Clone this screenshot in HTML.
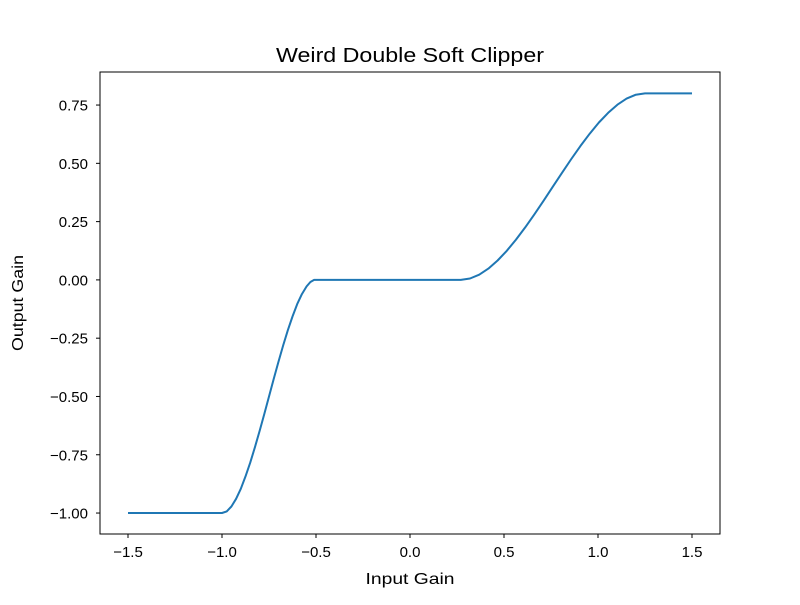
<!DOCTYPE html>
<html><head><meta charset="utf-8"><style>
body{margin:0;background:#fff}
svg text{font-family:"Liberation Sans",sans-serif;fill:#000}
</style></head><body>
<svg id="chart" width="800" height="600" xmlns="http://www.w3.org/2000/svg">
<rect width="800" height="600" fill="#fff"/>
<text x="410" y="62" font-size="20" text-anchor="middle" textLength="268" lengthAdjust="spacingAndGlyphs">Weird Double Soft Clipper</text>
<g id="ticks"></g>
<path id="line" fill="none" stroke="#1f77b4" stroke-width="2" stroke-linejoin="round"/>
<rect x="100" y="72" width="620" height="462" fill="none" stroke="#000" stroke-width="1"/>
<text x="410" y="584" font-size="16" text-anchor="middle" textLength="89" lengthAdjust="spacingAndGlyphs">Input Gain</text>
<text transform="translate(23,303) rotate(-90)" font-size="16" text-anchor="middle" textLength="96" lengthAdjust="spacingAndGlyphs">Output Gain</text>
</svg>
<script>
const xVals=[-1.5,-1.0,-0.975,-0.95,-0.925,-0.9,-0.875,-0.85,-0.825,-0.8,-0.775,-0.75,-0.725,-0.7,-0.675,-0.65,-0.625,-0.6,-0.575,-0.55,-0.53,-0.51,0.27,0.319,0.368,0.417,0.466,0.515,0.564,0.613,0.662,0.711,0.76,0.809,0.858,0.907,0.956,1.005,1.054,1.103,1.152,1.201,1.25,1.5];
const yVals=[-1,-1,-0.993,-0.972,-0.939,-0.896,-0.843,-0.784,-0.718,-0.648,-0.575,-0.5,-0.425,-0.352,-0.282,-0.216,-0.157,-0.104,-0.061,-0.028,-0.009,0,0,0.0058,0.0224,0.0486,0.0832,0.1250,0.1728,0.2254,0.2816,0.3402,0.4,0.4598,0.5184,0.5746,0.6272,0.6750,0.7168,0.7514,0.7776,0.7942,0.8,0.8];
const xTicks=[-1.5,-1.0,-0.5,0.0,0.5,1.0,1.5];
const xTickLabels=["\u22121.5","\u22121.0","\u22120.5","0.0","0.5","1.0","1.5"];
const yTicks=[-1.0,-0.75,-0.5,-0.25,0,0.25,0.5,0.75];
const yTickLabels=["\u22121.00","\u22120.75","\u22120.50","\u22120.25","0.00","0.25","0.50","0.75"];
const sx=v=>410+v*188;
const sy=v=>279.9-v*233.14;
const NS="http://www.w3.org/2000/svg";
const g=document.getElementById('ticks');
xTicks.forEach((t,i)=>{
  const l=document.createElementNS(NS,'line');
  
  
  l.setAttribute('x1',sx(t));l.setAttribute('x2',sx(t));l.setAttribute('y1',534);l.setAttribute('y2',538);l.setAttribute('stroke','#000');
  g.appendChild(l);
  const tx=document.createElementNS(NS,'text');
  
  
  tx.setAttribute('x',sx(t));tx.setAttribute('y',557);tx.setAttribute('font-size','15');tx.setAttribute('text-anchor','middle');
  tx.textContent=xTickLabels[i];g.appendChild(tx);
});
yTicks.forEach((t,i)=>{
  const l=document.createElementNS(NS,'line');
  
  
  l.setAttribute('x1',96);l.setAttribute('x2',100);l.setAttribute('y1',sy(t));l.setAttribute('y2',sy(t));l.setAttribute('stroke','#000');
  g.appendChild(l);
  const tx=document.createElementNS(NS,'text');
  
  
  tx.setAttribute('x',88);tx.setAttribute('y',sy(t)+5.5);tx.setAttribute('font-size','15');tx.setAttribute('text-anchor','end');
  tx.textContent=yTickLabels[i];g.appendChild(tx);
});
document.getElementById('line').setAttribute('d',xVals.map((x,i)=>(i?'L':'M')+sx(x).toFixed(1)+','+sy(yVals[i]).toFixed(1)).join(''));
</script>
</body></html>
